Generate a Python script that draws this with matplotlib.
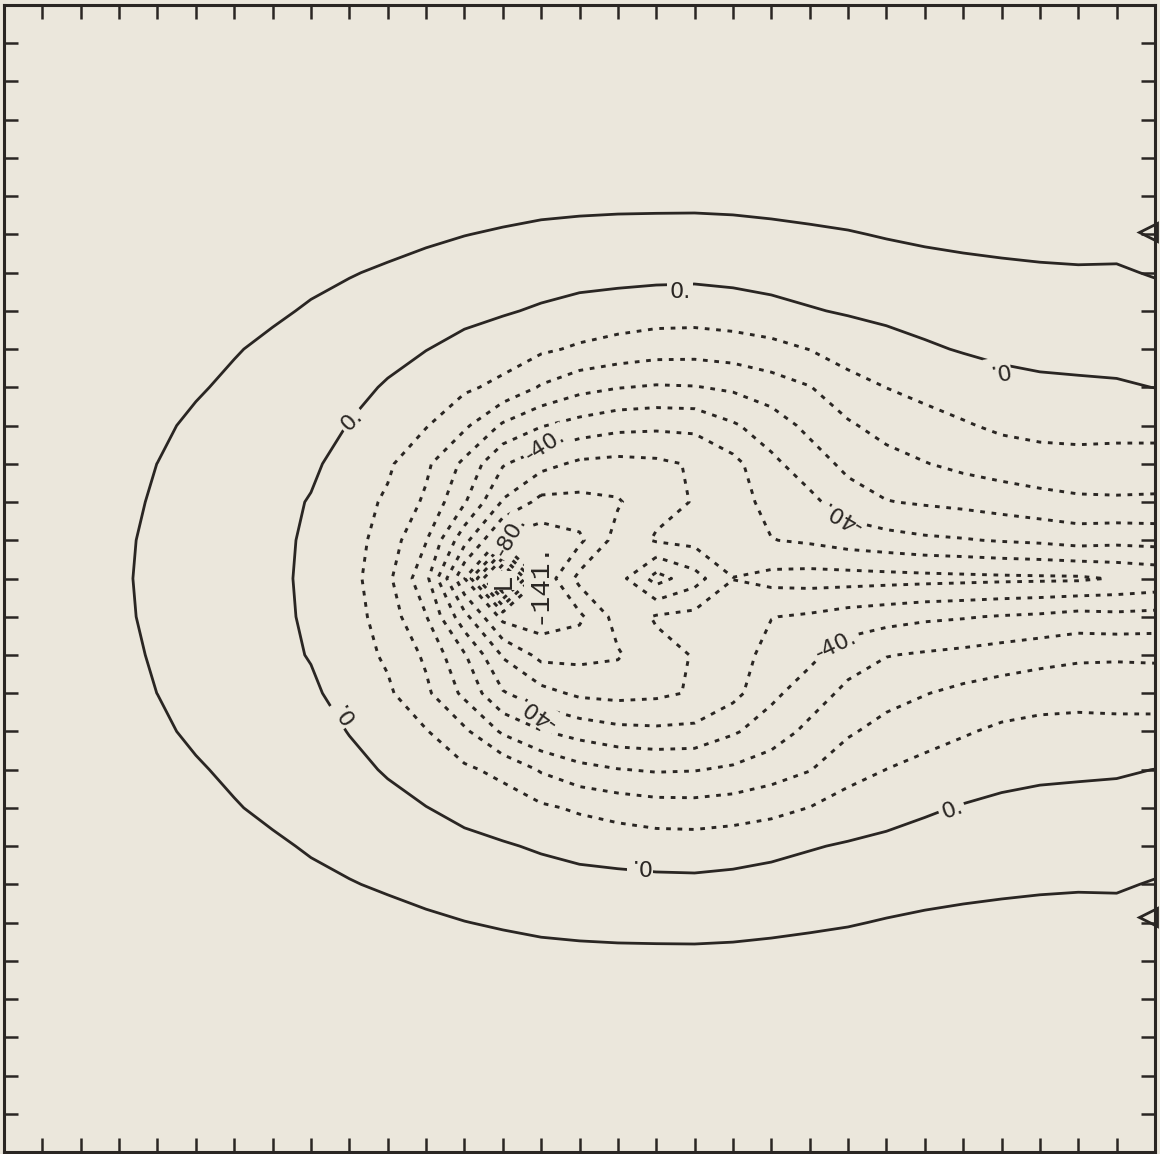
import numpy as np
import matplotlib
matplotlib.use("Agg")
import matplotlib.pyplot as plt

plt.rcParams["lines.scale_dashes"] = False

INK = "#2a2623"
PAPER = "#ebe7dc"

# Field values at the grid nodes, upper half only: row 0 is the top edge,
# row 15 the axis of symmetry; 31 columns from the left edge to the right edge.
row_00 = [12] * 31
row_01 = [12] * 31
row_02 = [12] * 31
row_03 = [12] * 31
row_04 = [12] * 31
row_05 = [12, 12, 12, 12, 12, 12, 12, 12, 12, 12, 12.5, 12.5, 13, 13.4, 12.75, 12.4, 12.2, 12.2, 12.2, 12.4, 12.8, 13.3, 13.9, 13.5, 13, 12.5, 12.5, 12.5, 12.5, 12.5, 12]
row_06 = [12, 12, 12, 12, 12, 12, 12, 12, 12, 12, 12.4, 11.3, 10.16, 9.2, 8.3, 7.8, 7.5, 7.3, 7.2, 7.5, 8.1, 8.8, 9.5, 10.5, 11.3, 11.8, 12.1, 12.4, 12.7, 12.5, 12]
row_07 = [12, 12, 12, 12, 12, 12, 12, 12, 11.4, 10.4, 9.1, 7.6, 6.2, 5.0, 3.9, 3.1, 2.7, 2.4, 2.2, 2.7, 3.5, 4.2, 5.2, 6.3, 7.3, 8.1, 8.7, 9.1, 9.3, 9.25, 10.5]
row_08 = [12, 12, 12, 12, 12, 12, 11.5, 10.9, 9.4, 7.7, 5.8, 3.9, 2.3, 0.8, -1.0, -2.8, -3.9, -5.0, -5.2, -4.1, -2.5, -0.6, 0.8, 2.1, 3.3, 4.35, 5.2, 5.7, 6.0, 6.0, 7.0]
row_09 = [12, 12, 12, 12, 12, 11.5, 10.4, 8.8, 7.4, 5.0, 2.55, 0.2, -2.5, -5.0, -8.4, -11.4, -13.9, -15.8, -16.2, -15.1, -13.0, -9.8, -5.4, -3.3, -1.1, 0.6, 1.8, 2.35, 2.6, 2.8, 3.5]
row_10 = [12, 12, 12, 12, 11.5, 10.6, 8.9, 6.8, 5.45, 2.35, -0.8, -4.6, -8.4, -12.5, -21.0, -26.8, -29.6, -31, -30.5, -28.4, -24.6, -20.4, -13.9, -9.9, -7.2, -4.9, -2.7, -1.6, -1.2, -0.85, 0.1]
row_11 = [12, 12, 12, 11.8, 11.0, 9.0, 7.6, 5.2, 3.5, -0.3, -4.6, -9.4, -18.1, -31.5, -39.4, -43.8, -47.1, -48, -47.5, -41.2, -35.1, -27.4, -21.2, -16.6, -13.6, -10.9, -8.3, -7.1, -6.7, -6.95, -6.8]
row_12 = [12, 12, 12, 11.6, 9.97, 8.0, 6.4, 3.8, 1.5, -3.5, -8.4, -18, -32.3, -49.1, -56.6, -62, -63.1, -62, -59, -53, -42.2, -35, -27.4, -23.4, -20.4, -17.5, -15.3, -13.8, -13.3, -13.6, -13.8]
row_13 = [12, 12, 11.8, 11.5, 9.3, 7.2, 5.3, 2.6, -0.5, -5.5, -11.5, -21.7, -39, -61, -73, -72.8, -71, -63, -59.5, -55, -46.3, -42.4, -34.8, -30.4, -28.9, -27.5, -25.6, -23.5, -21.8, -21.4, -21.7]
row_14 = [12, 12, 11.6, 11.0, 8.75, 6.5, 4.3, 2.5, -1.6, -5.8, -14.7, -29.5, -56.7, -83, -86, -82, -66, -59, -57, -57, -50.3, -48.6, -45.6, -43.7, -41.7, -40.7, -39.3, -38.2, -36.2, -37.2, -36.4]
row_15 = [12, 12, 11.5, 10.86, 8.47, 6.4, 4.3, 2.26, -2.0, -6.2, -17.7, -37.1, -79.5, -141, -88, -67, -66, -84, -74, -60.1, -63, -64, -64, -63.5, -63, -62.5, -62, -61.7, -61.5, -59.3, -57.5]

upper_rows = [row_00, row_01, row_02, row_03, row_04, row_05, row_06, row_07,
              row_08, row_09, row_10, row_11, row_12, row_13, row_14, row_15]

dashed_levels = [-140, -130, -120, -110, -100, -90, -80, -70, -60, -50, -40, -30, -20, -10]
solid_levels = [0, 10]

# Contour labels: text, column, row, angle
label_text = ["0.", "0.", "0.", "0.", "0.", "0.", "-40.", "-40.", "-40.", "-40.", "-80."]
label_col = [17.62, 9.07, 8.89, 16.58, 24.71, 25.90, 14.10, 13.89, 21.84, 21.68, 13.21]
label_row = [7.51, 10.86, 18.49, 22.50, 21.06, 9.55, 11.51, 18.49, 13.34, 16.74, 13.89]
label_angle = [0, 45, 125, 180, 20, 190, 32, 145, 150, 25, 60]

# Minimum: marker letter and its value
low_text = "-141."
low_col, low_row = 13.93, 15.1
low_mark_col, low_mark_row = 13.0, 15.05

# Boundary markers on the right edge
edge_mark_col = [29.83, 29.83]
edge_mark_row = [5.94, 23.86]

# Full symmetric field
upper = np.array(upper_rows, dtype=float)
field = np.vstack([upper, upper[-2::-1]])
n_rows, n_cols = field.shape
cols = np.arange(n_cols)
rows = np.arange(n_rows)
X, Y = np.meshgrid(cols, rows)

fig = plt.figure(figsize=(11.6, 11.54), dpi=100, facecolor=PAPER)
ax = fig.add_axes([4 / 1160, 2 / 1154, 1151 / 1160, 1147 / 1154])
ax.set_facecolor(PAPER)

cs_neg = ax.contour(X, Y, field, levels=dashed_levels, colors=INK, linewidths=2.1)
cs_neg.set_linestyle((0, (3.4, 4.8)))
cs_pos = ax.contour(X, Y, field, levels=solid_levels, colors=INK, linewidths=2.0,
                    linestyles="solid")

for t, c, r, a in zip(label_text, label_col, label_row, label_angle):
    ax.text(c, r, t, rotation=a, rotation_mode="anchor", ha="center", va="center",
            fontsize=16, color=INK, family="DejaVu Sans", zorder=5,
            bbox=dict(boxstyle="square,pad=0.12", fc=PAPER, ec="none"))

ax.text(low_col, low_row, low_text, rotation=90, ha="center", va="center",
        fontsize=20, color=INK, family="Liberation Mono", zorder=5,
        bbox=dict(boxstyle="square,pad=0.05", fc=PAPER, ec="none"))
ax.text(low_mark_col, low_mark_row, "L", rotation=90, ha="center", va="center",
        fontsize=20, color=INK, family="Liberation Mono", zorder=5,
        bbox=dict(boxstyle="square,pad=0.05", fc=PAPER, ec="none"))

ax.plot(edge_mark_col, edge_mark_row, ls="none", marker="<", ms=13, mfc="none",
        mec=INK, mew=2.0, clip_on=False, zorder=6)

ax.set_xlim(0, n_cols - 1)
ax.set_ylim(n_rows - 1, 0)
ax.set_xticks(cols)
ax.set_yticks(rows)
ax.tick_params(direction="in", length=10, width=1.8, color=INK,
               top=True, right=True, bottom=True, left=True,
               labelbottom=False, labelleft=False)
for s in ax.spines.values():
    s.set_color(INK)
    s.set_linewidth(2.2)

fig.savefig("out.png", dpi=100, facecolor=PAPER)
